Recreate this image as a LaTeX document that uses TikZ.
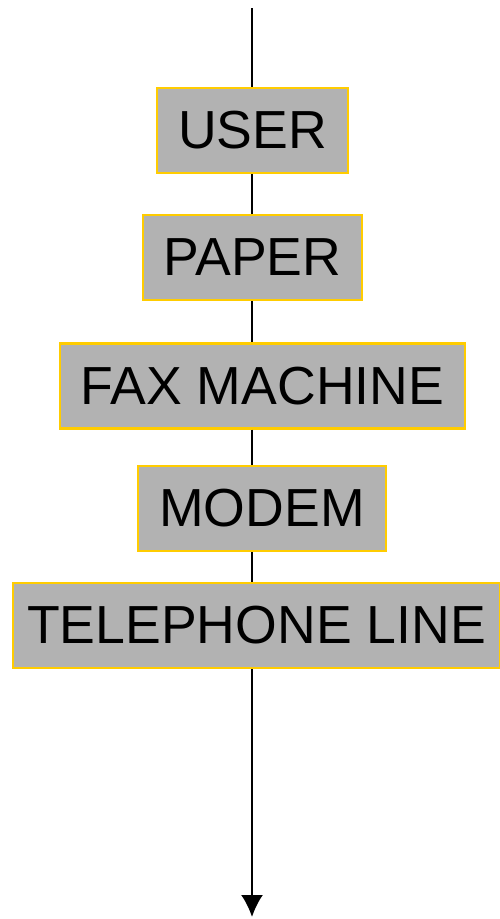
\documentclass[tikz,border=0pt]{standalone}
\usepackage{fontspec}
\setmainfont{Liberation Sans}
\usetikzlibrary{arrows.meta}
\definecolor{boxgray}{RGB}{178,178,178}
\definecolor{boxgold}{RGB}{255,204,0}

\begin{document}
\begin{tikzpicture}[
  layer/.style={draw=boxgold, fill=boxgray, line width=1.2pt, inner xsep=0.42cm,
    minimum height=1.7cm, font=\fontsize{30.5}{36}\selectfont},
  wire/.style={line width=1.2pt, black}]
\useasboundingbox (0,0) rectangle (10,-18.38);
\coordinate (top) at (5.04,-0.16);
\coordinate (bot) at (5.04,-18.34);
\node [layer] (user) at (5.05,-2.61) {USER};
\node [layer] (paper) at (5.05,-5.15) {PAPER};
\node [layer] (fax) at (5.25,-7.72) {FAX MACHINE};
\node [layer] (modem) at (5.24,-10.17) {MODEM};
\node [layer, inner xsep=0.29cm] (tele) at (5.13,-12.51) {TELEPHONE LINE};
\draw [wire] (top) -- (top |- user.north);
\draw [wire] (top |- user.south) -- (top |- paper.north);
\draw [wire] (top |- paper.south) -- (top |- fax.north);
\draw [wire] (top |- fax.south) -- (top |- modem.north);
\draw [wire] (top |- modem.south) -- (top |- tele.north);
\draw [wire,-{Latex[length=0.44cm,width=0.44cm]}] (top |- tele.south) -- (bot);
\end{tikzpicture}
\end{document}
